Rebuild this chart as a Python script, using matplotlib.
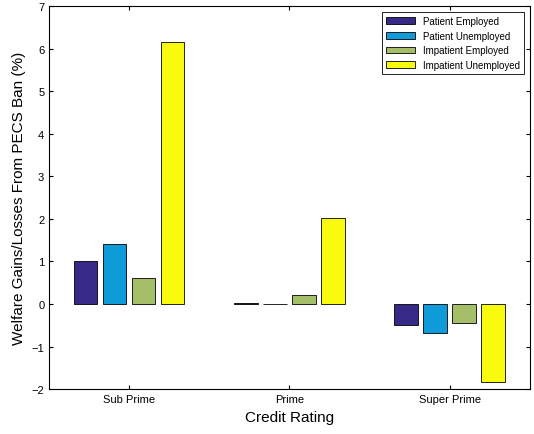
import numpy as np
import matplotlib.pyplot as plt

plt.rcParams['font.family'] = ['Liberation Sans', 'DejaVu Sans']

categories = ['Sub Prime', 'Prime', 'Super Prime']
series = ['Patient Employed', 'Patient Unemployed', 'Impatient Employed', 'Impatient Unemployed']
values = [
    [1.0, 0.02, -0.5],
    [1.4, -0.01, -0.67],
    [0.6, 0.22, -0.45],
    [6.15, 2.02, -1.83],
]
colors = ['#352a87', '#0f9bd7', '#a5be6a', '#f9fb0e']

fig = plt.figure(figsize=(5.34, 4.35), dpi=100)
ax = fig.add_axes([0.092, 0.103, 0.9, 0.881])

x = np.arange(1, len(categories) + 1)
offsets = (np.arange(4) - 1.5) * 0.181
for i in range(4):
    ax.bar(x + offsets[i], values[i], width=0.146, color=colors[i],
           edgecolor='black', linewidth=0.6, label=series[i])

ax.set_xlim(0.5, 3.5)
ax.set_ylim(-2, 7)
ax.set_xticks(x)
ax.set_xticklabels(categories)
ax.set_yticks(range(-2, 8))
ax.tick_params(direction='in', labelsize=8, top=True, right=True, length=3)
ax.set_xlabel('Credit Rating', fontsize=11)
ax.set_ylabel('Welfare Gains/Losses From PECS Ban (%)', fontsize=11)
leg = ax.legend(loc='upper right', fontsize=7, fancybox=False, edgecolor='black',
                framealpha=1, handlelength=3, borderaxespad=0.6)
leg.get_frame().set_linewidth(0.6)

fig.savefig('out.png', dpi=100)
